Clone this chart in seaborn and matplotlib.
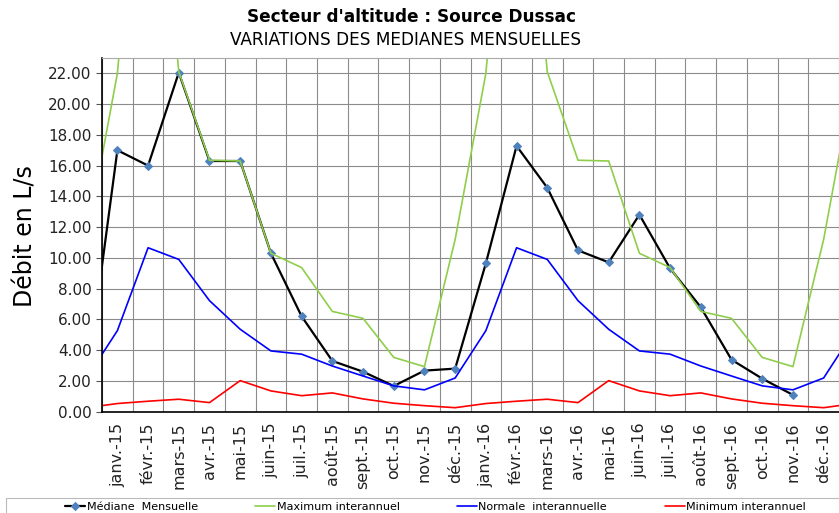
import numpy as np
import matplotlib
matplotlib.use("Agg")
import matplotlib.pyplot as plt
import seaborn as sns
from matplotlib.patches import Rectangle

# mois affichés (janv.-15 .. déc.-16), plus un mois de chaque côté pour le tracé
mois = ["janv.-15", "févr.-15", "mars-15", "avr.-15", "mai-15", "juin-15",
        "juil.-15", "août-15", "sept.-15", "oct.-15", "nov.-15", "déc.-15",
        "janv.-16", "févr.-16", "mars-16", "avr.-16", "mai-16", "juin-16",
        "juil.-16", "août-16", "sept.-16", "oct.-16", "nov.-16", "déc.-16"]
mois_complet = ["déc.-14"] + mois + ["janv.-17"]

mediane = [2.0, 17.0, 16.0, 22.05, 16.3, 16.3, 10.3, 6.2, 3.3, 2.6, 1.67, 2.67, 2.8,
           9.65, 17.28, 14.56, 10.49, 9.71, 12.81, 9.32, 6.79, 3.38, 2.15, 1.09,
           np.nan, np.nan]
maximum = [11.2, 22.0, 44.0, 22.1, 16.35, 16.3, 10.3, 9.37, 6.52, 6.07, 3.53, 2.93, 11.2,
           22.0, 44.0, 22.1, 16.35, 16.3, 10.3, 9.37, 6.52, 6.07, 3.53, 2.93, 11.2,
           22.0]
normale = [2.19, 5.27, 10.66, 9.9, 7.22, 5.36, 3.95, 3.74, 2.97, 2.32, 1.68, 1.42, 2.19,
           5.27, 10.66, 9.9, 7.22, 5.36, 3.95, 3.74, 2.97, 2.32, 1.68, 1.42, 2.19,
           5.27]
minimum = [0.26, 0.53, 0.68, 0.81, 0.59, 2.02, 1.35, 1.04, 1.22, 0.83, 0.55, 0.39, 0.26,
           0.53, 0.68, 0.81, 0.59, 2.02, 1.35, 1.04, 1.22, 0.83, 0.55, 0.39, 0.26,
           0.53]

sns.set_style("white")
plt.rcParams["font.family"] = ["DejaVu Sans"]
plt.rcParams["text.color"] = "black"
plt.rcParams["xtick.color"] = "black"
plt.rcParams["ytick.color"] = "black"

x = np.arange(len(mois_complet)) - 1

fig = plt.figure(figsize=(8.39, 5.13), dpi=100)
ax = fig.add_axes([0.1216, 0.1975, 0.8784, 0.6895])

sns.lineplot(x=x, y=mediane, color="black", linewidth=1.6, marker="D", markersize=4,
             markerfacecolor="#4F81BD", markeredgecolor="#4F81BD",
             label="Médiane  Mensuelle", ax=ax)
sns.lineplot(x=x, y=maximum, color="#8FCE4A", linewidth=1.2,
             label="Maximum interannuel", ax=ax)
sns.lineplot(x=x, y=normale, color="#0000FF", linewidth=1.2,
             label="Normale  interannuelle", ax=ax)
sns.lineplot(x=x, y=minimum, color="#FF0000", linewidth=1.2,
             label="Minimum interannuel", ax=ax)
ax.get_legend().remove()

ax.set_xlim(-0.5, len(mois) - 0.5)
ax.set_ylim(0, 23)
ax.set_yticks(np.arange(0, 23, 2))
ax.set_yticklabels([f"{v:.2f}" for v in np.arange(0, 23, 2)], fontsize=11)
ax.set_xticks(np.arange(len(mois)))
ax.set_xticklabels(mois, rotation=90, fontsize=11.5)
ax.set_xticks(np.arange(len(mois) + 1) - 0.5, minor=True)
ax.tick_params(axis="x", which="major", length=0, pad=8)
ax.tick_params(axis="x", which="minor", length=5, width=0.8, color="#555555", direction="out")
ax.tick_params(axis="y", length=4, width=0.8, color="#555555", labelcolor="#222222",
               direction="out", left=True)
ax.tick_params(axis="x", labelcolor="#222222")

ax.grid(False)
ax.grid(True, axis="x", which="minor", color="#8C8C8C", linewidth=0.8)
ax.grid(True, axis="y", which="major", color="#8C8C8C", linewidth=0.8)
ax.set_axisbelow(True)

for s in ["left", "bottom"]:
    ax.spines[s].set_color("black")
    ax.spines[s].set_linewidth(1.2)
ax.spines["top"].set_color("#AAAAAA")
ax.spines["right"].set_visible(False)
ax.set_xlabel("")
ax.set_ylabel("")

fig.text(0.49, 0.967, "Secteur d'altitude : Source Dussac", ha="center", va="center",
         fontsize=12.2, fontweight="bold")
fig.text(0.483, 0.922, "VARIATIONS DES MEDIANES MENSUELLES", ha="center", va="center",
         fontsize=12.2)
fig.text(0.03, 0.54, "Débit en L/s", rotation=90, ha="center", va="center", fontsize=17)

handles, labels = ax.get_legend_handles_labels()
fig.legend(handles, labels, loc="center left", bbox_to_anchor=(0.078, 0.012), ncol=4,
           frameon=False, fontsize=8, handlelength=1.8, handletextpad=0.1,
           columnspacing=5.2, borderpad=0, borderaxespad=0)
fig.patches.append(Rectangle((0.007, -0.05), 1.1, 0.079, transform=fig.transFigure,
                             fill=False, edgecolor="#BBBBBB", linewidth=0.8))

fig.savefig("out.png", dpi=100)
